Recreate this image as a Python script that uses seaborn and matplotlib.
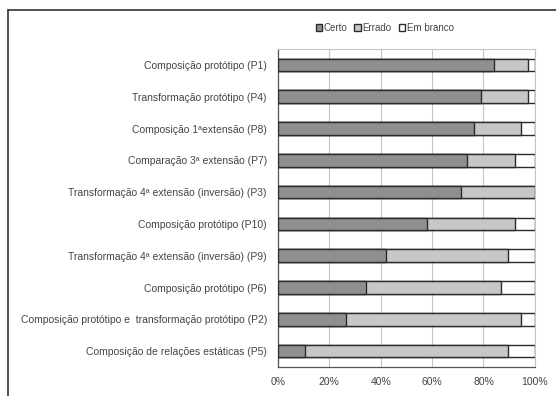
import matplotlib
matplotlib.use("Agg")
import matplotlib.pyplot as plt
from matplotlib.patches import Patch
from matplotlib.lines import Line2D
import seaborn as sns
import pandas as pd
import numpy as np

# Question labels, top to bottom
questions = [
    "Composição protótipo (P1)",
    "Transformação protótipo (P4)",
    "Composição 1ªextensão (P8)",
    "Comparação 3ª extensão (P7)",
    "Transformação 4ª extensão (inversão) (P3)",
    "Composição protótipo (P10)",
    "Transformação 4ª extensão (inversão) (P9)",
    "Composição protótipo (P6)",
    "Composição protótipo e  transformação protótipo (P2)",
    "Composição de relações estáticas (P5)",
]

# Share of answers per question (%)
certo = [84.2, 78.9, 76.3, 73.7, 71.1, 57.9, 42.1, 34.2, 26.3, 10.5]
errado = [13.2, 18.4, 18.4, 18.4, 28.9, 34.2, 47.4, 52.6, 68.4, 78.9]
em_branco = [2.6, 2.6, 5.3, 7.9, 0.0, 7.9, 10.5, 13.2, 5.3, 10.5]

series_names = ["Certo", "Errado", "Em branco"]
tick_labels = ["0%", "20%", "40%", "60%", "80%", "100%"]

df = pd.DataFrame({"Questão": questions, "Certo": certo,
                   "Errado": errado, "Em branco": em_branco})
df["c1"] = df["Certo"]
df["c2"] = df["Certo"] + df["Errado"]
df["c3"] = df["c2"] + df["Em branco"]

sns.set_theme(style="white")
plt.rcParams["font.family"] = ["Liberation Sans", "DejaVu Sans"]

colors = ["#8f8f93", "#c6c7c8", "#ffffff"]
edge = "#2b2b2b"
text_color = "#444444"

fig = plt.figure(figsize=(5.56, 3.96), dpi=100)
ax = fig.add_axes([0.5, 0.0732, 0.462, 0.803])

for col, color in zip(["c3", "c2", "c1"], colors[::-1]):
    sns.barplot(data=df, x=col, y="Questão", orient="h", color=color,
                width=0.4, edgecolor=edge, linewidth=1.0, saturation=1,
                ax=ax, zorder=3)

ax.set_xlim(0, 100)
ax.set_ylim(len(questions) - 0.5, -0.5)
ax.set_xlabel("")
ax.set_ylabel("")

ax.set_xticks(np.arange(0, 101, 20))
ax.set_xticklabels(tick_labels)
ax.xaxis.grid(True, color="#c4c4c4", linewidth=0.8, zorder=0)
ax.set_axisbelow(True)

# Category ticks sit on the boundaries between bars
ax.set_yticks(range(len(questions)))
ax.set_yticklabels(questions)
ax.set_yticks(np.arange(-0.5, len(questions), 1), minor=True)
ax.tick_params(axis="y", which="major", length=0, pad=8,
               labelsize=7.5, labelcolor=text_color)
ax.tick_params(axis="y", which="minor", length=3, width=0.8,
               color="#555555", direction="out")
ax.tick_params(axis="x", length=3, width=0.8, color="#555555",
               labelsize=7.5, labelcolor=text_color, pad=4)

for side in ["left", "bottom"]:
    ax.spines[side].set_color("#555555")
    ax.spines[side].set_linewidth(0.9)
for side in ["top", "right"]:
    ax.spines[side].set_color("#c4c4c4")
    ax.spines[side].set_linewidth(0.8)

handles = [Patch(facecolor=c, edgecolor=edge, linewidth=1.0) for c in colors]
fig.legend(handles, series_names, loc="center", ncol=3,
           bbox_to_anchor=(0.692, 0.929), frameon=False, fontsize=7,
           handlelength=0.7, handleheight=0.7, handletextpad=0.15,
           columnspacing=0.7, labelcolor=text_color)

# Outer chart frame (top and left borders)
fig.add_artist(Line2D([8 / 556, 1.0], [1 - 10 / 396, 1 - 10 / 396],
                      transform=fig.transFigure, color="#333333", linewidth=1.2))
fig.add_artist(Line2D([8 / 556, 8 / 556], [1 - 10 / 396, 0.0],
                      transform=fig.transFigure, color="#333333", linewidth=1.2))

fig.savefig("out.png", dpi=100)
